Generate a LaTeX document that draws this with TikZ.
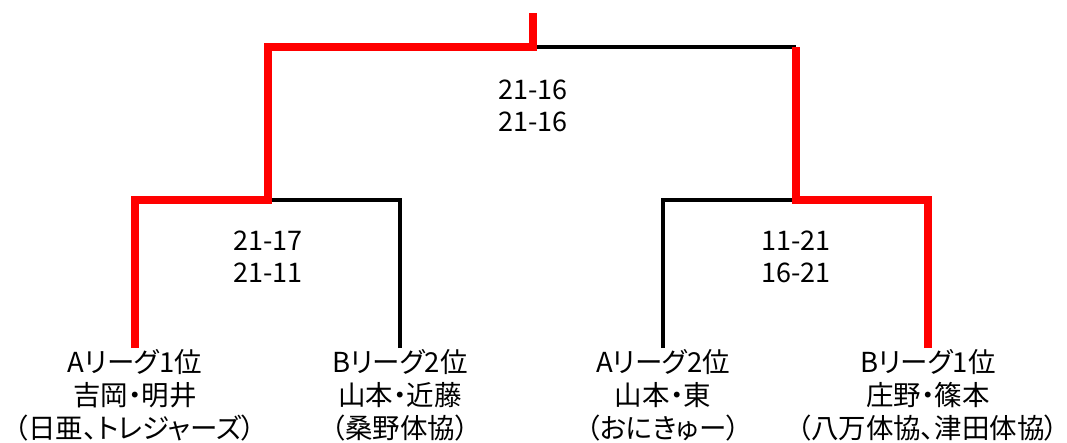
\documentclass[tikz,border=0pt]{standalone}
\usepackage{fontspec}
\setmainfont{Noto Sans CJK JP}[RawFeature=+palt]
\tikzset{
  win/.style={draw=red,line width=8pt},
  lose/.style={draw=black,line width=3.5pt},
  team/.style={align=center,inner sep=0pt,font=\fontsize{27.5}{33}\selectfont},
  score/.style={align=center,inner sep=0pt,font=\fontsize{27}{32}\selectfont}
}
\begin{document}
\begin{tikzpicture}[x=1pt,y=-1pt]
\useasboundingbox (0,0) rectangle (1067,443);
\fill[white] (0,0) rectangle (1067,443);
\coordinate (top) at (533,13);
\coordinate (fin) at (533,47);
\coordinate (sf1) at (268,200);
\coordinate (sf2) at (796,200);
\coordinate (a1top) at (135,348);
\coordinate (b2top) at (400,348);
\coordinate (a2top) at (663,348);
\coordinate (b1top) at (928,348);
\node[team] (a1) at (135,395) {Aリーグ1位\\吉岡・明井\\（日亜、トレジャーズ）};
\node[team] (b2) at (400,395) {Bリーグ2位\\山本・近藤\\（桑野体協）};
\node[team] (a2) at (663,395) {Aリーグ2位\\山本・東\\（おにきゅー）};
\node[team] (b1) at (928,395) {Bリーグ1位\\庄野・篠本\\（八万体協、津田体協）};
\node[score] (s0) at (533,106) {21-16\\21-16};
\node[score] (s1) at (268,257) {21-17\\21-11};
\node[score] (s2) at (796,257) {11-21\\16-21};
\draw[lose] (b2top) |- (sf1);
\draw[lose] (a2top) |- (sf2);
\draw[lose] (sf2 |- fin) -- (fin);
\draw[win] (a1top) |- (sf1) |- (fin) -- (top);
\draw[win] (b1top) |- (sf2) -- (sf2 |- fin);
\end{tikzpicture}
\end{document}
